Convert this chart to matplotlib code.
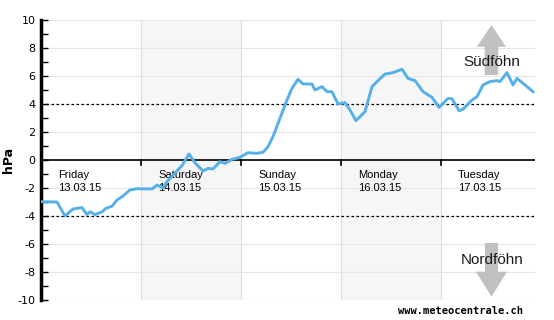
import numpy as np
import matplotlib.pyplot as plt
from matplotlib.patches import FancyArrow

# Tage ab Freitag 00:00 (x) und Druckdifferenz in hPa (y)
tage = [0.00, 0.16, 0.24, 0.32, 0.41, 0.46, 0.49, 0.54, 0.61, 0.65, 0.71, 0.76,
        0.82, 0.89, 0.96, 1.11, 1.16, 1.22, 1.26, 1.32, 1.41, 1.48, 1.54, 1.62,
        1.67, 1.72, 1.79, 1.84, 1.91, 1.99, 2.07, 2.16, 2.22, 2.27, 2.32, 2.39,
        2.46, 2.51, 2.57, 2.62, 2.71, 2.74, 2.81, 2.86, 2.91, 2.97, 3.04, 3.09,
        3.15, 3.24, 3.31, 3.36, 3.44, 3.52, 3.61, 3.67, 3.74, 3.82, 3.91, 3.98,
        4.07, 4.11, 4.18, 4.22, 4.31, 4.36, 4.42, 4.49, 4.56, 4.59, 4.66, 4.72,
        4.76, 4.82, 4.92]
hpa = [-2.98, -3.0, -4.0, -3.5, -3.4, -3.9, -3.7, -3.9, -3.7, -3.45, -3.3, -2.86,
       -2.57, -2.14, -2.05, -2.07, -1.79, -1.98, -1.55, -1.07, -0.4, 0.43, -0.2, -0.79,
       -0.6, -0.64, -0.12, -0.24, 0.05, 0.19, 0.52, 0.48, 0.55, 0.95, 1.67, 2.98,
       4.29, 5.12, 5.76, 5.43, 5.43, 5.0, 5.24, 4.88, 4.88, 4.0, 4.1, 3.57,
       2.81, 3.45, 5.24, 5.6, 6.14, 6.24, 6.48, 5.83, 5.67, 4.88, 4.48, 3.76,
       4.4, 4.38, 3.52, 3.62, 4.29, 4.52, 5.36, 5.6, 5.67, 5.6, 6.24, 5.36,
       5.83, 5.48, 4.88]

tag_namen = ['Friday', 'Saturday', 'Sunday', 'Monday', 'Tuesday']
tag_daten = ['13.03.15', '14.03.15', '15.03.15', '16.03.15', '17.03.15']
grenze = 4  # Schwelle fuer Foehn (+/- hPa)

fig = plt.figure(figsize=(5.54, 3.2), dpi=100)
ax = fig.add_axes([0.074, 0.0625, 0.8917, 0.875])
plt.rcParams['font.family'] = ['Liberation Sans', 'DejaVu Sans']

# graue Tage (Samstag, Montag)
for i in [1, 3]:
    ax.axvspan(i, i + 1, color='#f6f6f6', zorder=0, lw=0)

# Gitter
for yy in range(-10, 11, 2):
    ax.axhline(yy, color='#e6e6e6', lw=0.8, zorder=1)
for i in range(1, 5):
    ax.axvline(i, color='#dedede', lw=0.8, zorder=1)

ax.axhline(0, color='black', lw=1.2, zorder=3)
ax.axhline(grenze, color='black', lw=0.9, ls=(0, (2, 2)), zorder=3)
ax.axhline(-grenze, color='black', lw=0.9, ls=(0, (2, 2)), zorder=3)
for i in range(1, 5):
    ax.plot([i, i], [0, -0.35], color='black', lw=1.2, zorder=3)

for i in range(5):
    ax.text(i + 0.17, -0.75, tag_namen[i] + '\n' + tag_daten[i], fontsize=8,
            va='top', ha='left', linespacing=1.3, zorder=4)

ax.plot(tage, hpa, color='#55b0e8', lw=2.1, zorder=5, solid_joinstyle='round')

# Pfeile
ax.add_patch(FancyArrow(4.505, 6.07, 0, 3.57, width=0.135, head_width=0.29,
                        head_length=1.55, length_includes_head=True,
                        color='#c0c0c0', lw=0, zorder=2))
ax.add_patch(FancyArrow(4.505, -5.93, 0, -3.83, width=0.13, head_width=0.31,
                        head_length=1.78, length_includes_head=True,
                        color='#c0c0c0', lw=0, zorder=2))
ax.text(4.51, 7.0, 'Südföhn', fontsize=11, ha='center', va='center',
        color='#1a1a1a', zorder=4)
ax.text(4.51, -7.14, 'Nordföhn', fontsize=11, ha='center', va='center',
        color='#1a1a1a', zorder=4)

ax.set_xlim(0, 4.94)
ax.set_ylim(-10, 10)
ax.set_yticks(range(-10, 11, 2))
ax.set_yticks(range(-10, 11, 1), minor=True)
ax.set_yticklabels([str(v) for v in range(-10, 11, 2)], fontsize=8)
ax.set_xticks([])
ax.tick_params(axis='y', which='both', direction='in', length=5, width=1,
               pad=4, colors='black')
for s in ['top', 'right', 'bottom']:
    ax.spines[s].set_visible(False)
ax.spines['left'].set_linewidth(2.5)
ax.set_ylabel('hPa', fontsize=9, fontweight='bold', labelpad=2)
ax.set_facecolor('white')

fig.text(523 / 554, 1 - 311 / 320, 'www.meteocentrale.ch', fontsize=7.5,
         family='DejaVu Sans Mono', fontweight='bold', ha='right', va='center')

fig.savefig('out.png', dpi=100)
